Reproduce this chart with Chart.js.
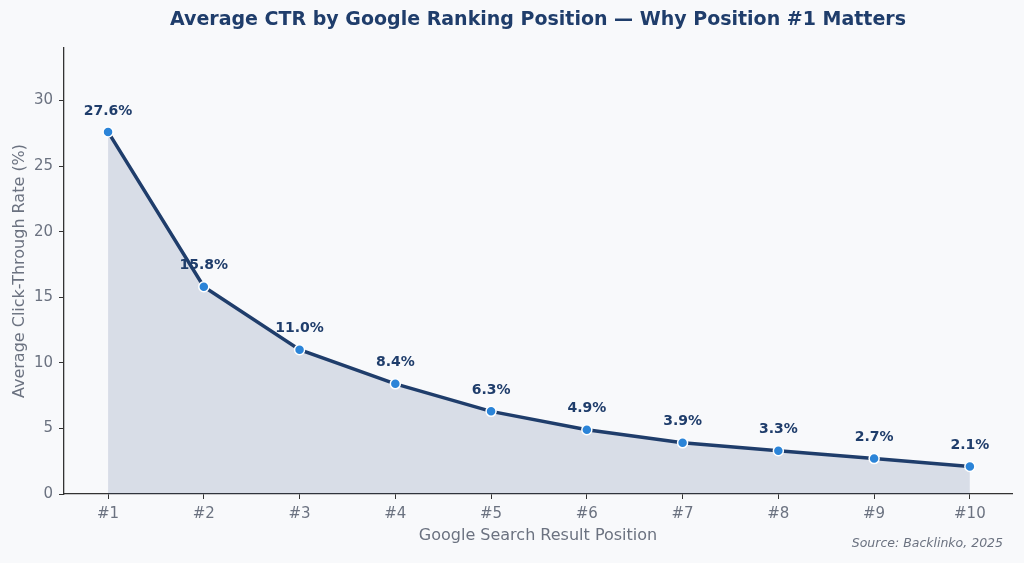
<!DOCTYPE html>
<html lang="en">
<head>
  <meta charset="UTF-8">
  <title>Average CTR by Google Ranking Position</title>
  <script src="https://cdn.jsdelivr.net/npm/chart.js"></script>
  <style>
    html, body { margin: 0; padding: 0; background: #f8f9fb; }
    #wrap { position: relative; width: 1024px; height: 563px; }
  </style>
</head>
<body>
  <div id="wrap">
    <canvas id="myChart" width="1024" height="563"></canvas>
  </div>
  <script>
    // data
    const positions = [1, 2, 3, 4, 5, 6, 7, 8, 9, 10];
    const positionLabels = ['#1', '#2', '#3', '#4', '#5', '#6', '#7', '#8', '#9', '#10'];
    const ctrValues = [27.6, 15.8, 11.0, 8.4, 6.3, 4.9, 3.9, 3.3, 2.7, 2.1];
    const yTicks = [0, 5, 10, 15, 20, 25, 30];

    const titleText = 'Average CTR by Google Ranking Position \u2014 Why Position #1 Matters';
    const sourceText = 'Source: Backlinko, 2025';
    const font = "'DejaVu Sans', sans-serif";

    // value labels above points + title + source note
    const extrasPlugin = {
      id: 'extras',
      afterDatasetsDraw(chart) {
        const c = chart.ctx;
        const xs = chart.scales.x, ys = chart.scales.y;
        c.save();
        c.fillStyle = '#1f3d6b';
        c.font = 'bold 14px ' + font;
        c.textAlign = 'center';
        c.textBaseline = 'middle';
        ctrValues.forEach((v, i) => {
          c.fillText(v.toFixed(1) + '%', xs.getPixelForValue(positions[i]), ys.getPixelForValue(v) - 21);
        });
        c.font = 'bold 19px ' + font;
        c.fillText(titleText, (chart.chartArea.left + chart.chartArea.right) / 2, 20);
        c.fillStyle = '#6b7280';
        c.font = 'italic 12.5px ' + font;
        c.textAlign = 'right';
        c.fillText(sourceText, 1003, 544);
        c.restore();
      }
    };

    const ctx = document.getElementById('myChart').getContext('2d');
    const chart = new Chart(ctx, {
      type: 'line',
      data: {
        datasets: [{
          label: 'CTR',
          data: positions.map((p, i) => ({ x: p, y: ctrValues[i] })),
          borderColor: '#1f3d6b',
          borderWidth: 3.5,
          backgroundColor: 'rgba(31, 61, 120, 0.15)',
          fill: 'origin',
          tension: 0,
          pointRadius: 5,
          pointBackgroundColor: '#2b84d8',
          pointBorderColor: '#ffffff',
          pointBorderWidth: 1.5
        }]
      },
      options: {
        responsive: false,
        animation: false,
        devicePixelRatio: 1,
        layout: { padding: { top: 48, right: 12, left: 10, bottom: 18 } },
        plugins: {
          legend: { display: false },
          tooltip: { enabled: false }
        },
        scales: {
          x: {
            type: 'linear',
            min: 0.54,
            max: 10.44,
            afterBuildTicks(scale) { scale.ticks = positions.map(v => ({ value: v })); },
            afterFit(scale) { scale.height = 51; },
            grid: { drawOnChartArea: false, drawTicks: true, tickLength: 5, color: '#333333' },
            border: { display: true, color: '#333333', width: 1.3 },
            ticks: {
              autoSkip: false,
              maxRotation: 0,
              color: '#6b7280',
              font: { family: font, size: 15 },
              padding: 6,
              callback: (v) => positionLabels[positions.indexOf(v)]
            },
            title: {
              display: true,
              text: 'Google Search Result Position',
              color: '#6b7280',
              font: { family: font, size: 16 },
              padding: { top: 2, bottom: 0 }
            }
          },
          y: {
            min: 0,
            max: 34,
            afterBuildTicks(scale) { scale.ticks = yTicks.map(v => ({ value: v })); },
            afterFit(scale) { scale.width = 54; },
            grid: { drawOnChartArea: false, drawTicks: true, tickLength: 5, color: '#333333' },
            border: { display: true, color: '#333333', width: 1.3 },
            ticks: {
              autoSkip: false,
              color: '#6b7280',
              font: { family: font, size: 15 },
              padding: 6
            },
            title: {
              display: true,
              text: 'Average Click-Through Rate (%)',
              color: '#6b7280',
              font: { family: font, size: 16 },
              padding: { top: 0, bottom: 0 }
            }
          }
        }
      },
      plugins: [extrasPlugin]
    });
  </script>
</body>
</html>
